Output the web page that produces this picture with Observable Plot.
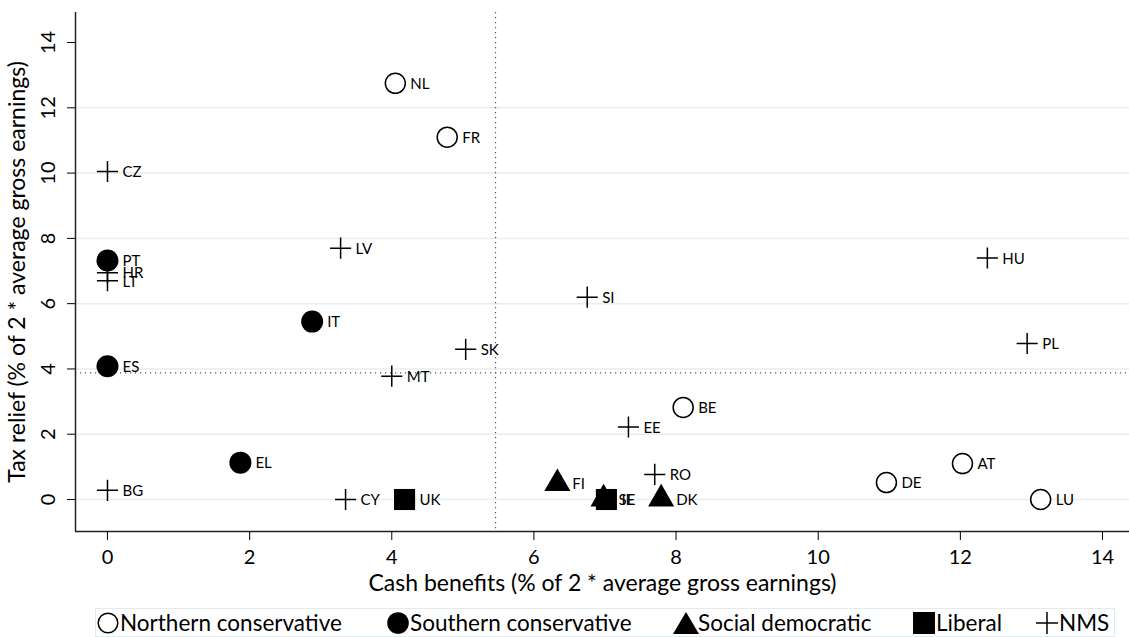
<!DOCTYPE html>
<html>
<head>
<meta charset="utf-8">
<script src="https://cdn.jsdelivr.net/npm/d3@7"></script>
<script src="https://cdn.jsdelivr.net/npm/@observablehq/plot@0.6"></script>
<style>
  html, body { margin: 0; padding: 0; background: #fff; }
  body { width: 1129px; height: 637px; overflow: hidden; font-family: Lato, "Open Sans", sans-serif; }
  #chart svg { display: block; }
  #legend {
    position: relative; margin-left: 95px; margin-top: 3px; width: 1020px; height: 29px; box-sizing: border-box;
    border: 1px solid #e3ebee; font-size: 22.5px; color: #000; white-space: nowrap;
  }
  #legend .item { position: absolute; top: 0; height: 27px; display: flex; align-items: center; }
  #legend svg { margin-right: 1px; }
</style>
</head>
<body>
<div id="chart"></div>
<div id="legend"></div>
<script>
const countries = ["NL","FR","CZ","LV","PT","HR","LT","IT","SI","HU","PL","SK","ES","MT","BE","EE","EL","RO","AT","DE","LU","BG","CY","UK","FI","SE","IE","DK"];
const cashBenefits = [4.05,4.78,0,3.28,0,0,0,2.88,6.75,12.38,12.94,5.04,0,4.0,8.1,7.33,1.87,7.70,12.03,10.96,13.13,0,3.35,4.18,6.33,6.98,7.02,7.79];
const taxRelief = [12.75,11.1,10.05,7.7,7.32,6.95,6.7,5.45,6.2,7.4,4.78,4.6,4.08,3.78,2.82,2.22,1.13,0.77,1.1,0.52,0,0.28,0,0,0.49,0.02,0,0.02];
const regime = ["Northern conservative","Northern conservative","NMS","NMS","Southern conservative","NMS","NMS","Southern conservative","NMS","NMS","NMS","NMS","Southern conservative","NMS","Northern conservative","NMS","Southern conservative","NMS","Northern conservative","Northern conservative","Northern conservative","NMS","NMS","Liberal","Social democratic","Social democratic","Liberal","Social democratic"];
const regimes = ["Northern conservative","Southern conservative","Social democratic","Liberal","NMS"];
const xTicks = [0,2,4,6,8,10,12,14];
const yTicks = [0,2,4,6,8,10,12,14];
const yGrid = [0,2,4,6,8,10,12];
const xDomain = [-0.45, 14.38];
const yDomain = [-0.98, 14.92];
const meanCash = [5.46];
const meanTax = [3.88];

const data = countries.map((c, i) => ({country: c, x: cashBenefits[i], y: taxRelief[i], regime: regime[i]}));
const byRegime = r => data.filter(d => d.regime === r);

const plot = Plot.plot({
  width: 1129,
  height: 605,
  marginLeft: 75,
  marginRight: 0,
  marginTop: 12,
  marginBottom: 74,
  style: {fontFamily: "Lato, sans-serif", background: "#fff", color: "#000"},
  x: {domain: xDomain},
  y: {domain: yDomain},
  marks: [
    Plot.ruleY(yGrid, {stroke: "#e6eef1", strokeWidth: 1.5}),
    Plot.ruleX(meanCash, {stroke: "#555", strokeDasharray: "1.2,3.8", strokeWidth: 1.2}),
    Plot.ruleY(meanTax, {stroke: "#555", strokeDasharray: "1.2,3.8", strokeWidth: 1.2}),
    Plot.ruleX([xDomain[0]], {stroke: "#222", strokeWidth: 1.5}),
    Plot.ruleY([yDomain[0]], {stroke: "#222", strokeWidth: 1.5}),
    Plot.axisX({ticks: xTicks, tickSize: 9, tickPadding: 9, fontSize: 20, label: null}),
    Plot.axisX({ticks: [], label: "Cash benefits (% of 2 * average gross earnings)", labelAnchor: "center", labelOffset: 59, labelArrow: "none", fontSize: 23}),
    Plot.axisY({ticks: yTicks, tickSize: 8, tickPadding: 13, fontSize: 20, tickRotate: -90, label: null}),
    Plot.axisY({ticks: [], label: "Tax relief (% of 2 * average gross earnings)", labelAnchor: "center", labelOffset: 67, labelArrow: "none", fontSize: 23}),
    Plot.dot(byRegime("Northern conservative"), {x: "x", y: "y", r: 10, symbol: "circle", fill: "#fff", stroke: "#000", strokeWidth: 1.5}),
    Plot.dot(byRegime("Southern conservative"), {x: "x", y: "y", r: 11, symbol: "circle", fill: "#000", stroke: "none"}),
    Plot.dot(byRegime("Social democratic"), {x: "x", y: "y", r: 9.7, symbol: "triangle", fill: "#000", stroke: "none"}),
    Plot.dot(byRegime("Liberal"), {x: "x", y: "y", r: 11.9, symbol: "square", fill: "#000", stroke: "none"}),
    Plot.dot(byRegime("NMS"), {x: "x", y: "y", r: 6.85, symbol: "plus", fill: "none", stroke: "#000", strokeWidth: 1.5}),
    Plot.text(data, {x: "x", y: "y", text: "country", dx: 15, dy: 1, textAnchor: "start", fontSize: 15, fill: "#000"})
  ]
});
document.getElementById("chart").appendChild(plot);

// Legend
const legendLefts = [1, 291, 579, 817, 940];
const legendSymbols = {
  "Northern conservative": '<circle cx="11" cy="12" r="9.8" fill="#fff" stroke="#000" stroke-width="1.5"/>',
  "Southern conservative": '<circle cx="11" cy="12" r="10.8" fill="#000"/>',
  "Social democratic": '<path d="M11,1 L24,23 L-2,23 Z" fill="#000"/>',
  "Liberal": '<rect x="0" y="1" width="22" height="22" fill="#000"/>',
  "NMS": '<path d="M0,12 H22 M11,1 V23" stroke="#000" stroke-width="1.5" fill="none"/>'
};
const legend = document.getElementById("legend");
regimes.forEach((r, i) => {
  const item = document.createElement("div");
  item.className = "item";
  item.style.left = legendLefts[i] + "px";
  item.innerHTML = `<svg width="22" height="24" viewBox="0 0 22 24" style="overflow:visible">${legendSymbols[r]}</svg><span>${r}</span>`;
  legend.appendChild(item);
});
</script>
</body>
</html>
